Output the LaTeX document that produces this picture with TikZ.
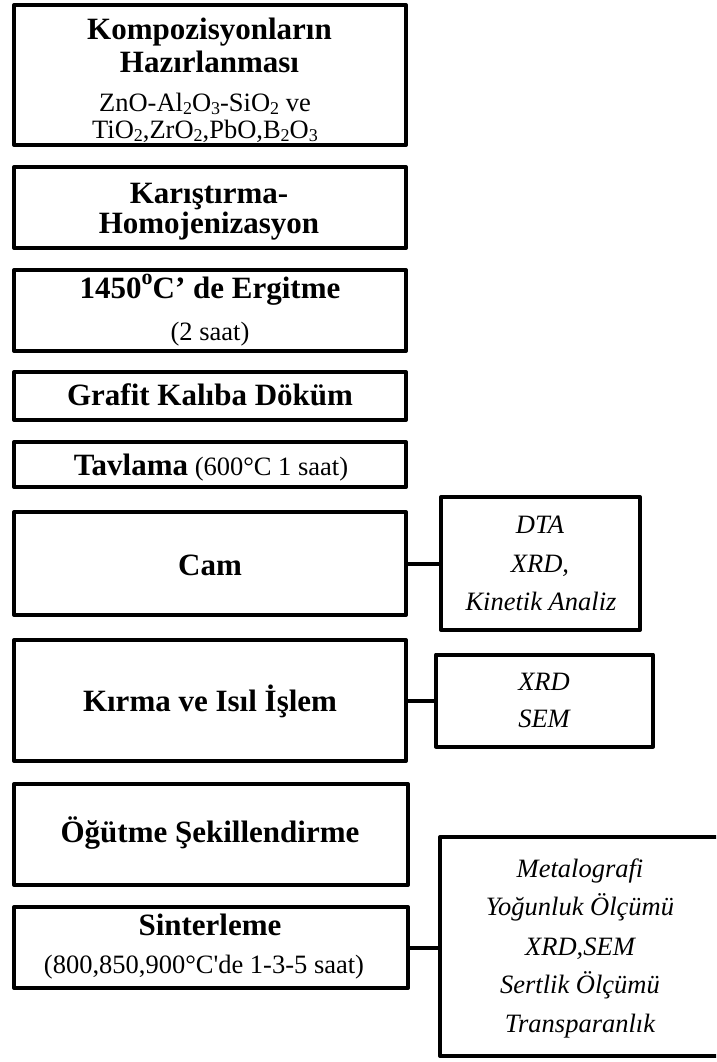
\documentclass[tikz,border=0pt]{standalone}
\usepackage{fontspec}
\setmainfont{Liberation Serif}[Ligatures=TeXOff]
\newcommand{\bsz}{\fontsize{31}{33}\selectfont\bfseries}
\newcommand{\nsz}{\fontsize{26.5}{30}\selectfont}
\newcommand{\sbs}[1]{\raisebox{-0.1em}{\fontsize{18}{18}\selectfont #1}}
\begin{document}
\begin{tikzpicture}[x=1pt,y=-1pt,
  box/.style={draw, rectangle, line width=4pt, line join=round, inner sep=0pt},
  lbox/.style={box, minimum width=392pt},
  bt/.style={font=\bsz, anchor=base, inner sep=0pt},
  nt/.style={font=\nsz, anchor=base, inner sep=0pt},
  it/.style={font=\nsz\itshape, anchor=base, inner sep=0pt},
  conn/.style={line width=4pt}]
\useasboundingbox (0,0) rectangle (716,1062);
\clip (0,0) rectangle (716,1062);
% left column boxes
\node[lbox, minimum height=140pt] (b1) at (210,75) {};
\node[lbox, minimum height=81pt] (b2) at (210,207.5) {};
\node[lbox, minimum height=81pt] (b3) at (210,310.5) {};
\node[lbox, minimum height=48pt] (b4) at (210,396) {};
\node[lbox, minimum height=45pt] (b5) at (210,464.5) {};
\node[lbox, minimum height=103pt] (b6) at (210,563.5) {};
\node[lbox, minimum height=121pt] (b7) at (210,700.5) {};
\node[lbox, minimum height=101pt, minimum width=394pt] (b8) at (211,834.5) {};
\node[lbox, minimum height=81pt, minimum width=394pt] (b9) at (211,947.5) {};
% right column boxes
\node[box, minimum width=199pt, minimum height=133pt] (r1) at (540.5,563.5) {};
\node[box, minimum width=217pt, minimum height=92pt] (r2) at (544.5,700.5) {};
\node[box, minimum width=282pt, minimum height=219pt] (r3) at (581,946.5) {};
% connectors
\draw[conn] (b6.east) -- (r1.west);
\draw[conn] (b7.east) -- (r2.west);
\draw[conn] (b9.east) -- (b9.east -| r3.west);
% texts
\node[bt] (t1a) at (209.5,40) {Kompozisyonların};
\node[bt] (t1b) at (209.5,73) {Hazırlanması};
\node[font=\fontsize{26.5}{27}\selectfont, align=center, inner sep=0pt, anchor=center] (t1c) at (205,118)
  {ZnO-Al\sbs{2}O\sbs{3}-SiO\sbs{2} ve\\TiO\sbs{2},ZrO\sbs{2},PbO,B\sbs{2}O\sbs{3}};
\node[bt] (t2a) at (209,203) {Karıştırma-};
\node[bt] (t2b) at (209,233) {Homojenizasyon};
\node[bt] (t3a) at (210,298) {1450\raisebox{0.42em}{\fontsize{22}{22}\selectfont o}C’ de Ergitme};
\node[nt] (t3b) at (210,340) {(2 saat)};
\node[bt] (t4) at (210,405) {Grafit Kalıba Döküm};
\node[nt] (t5) at (211,475) {{\bsz Tavlama} (600°C 1 saat)};
\node[bt] (t6) at (210,575) {Cam};
\node[bt] (t7) at (210,711) {Kırma ve Isıl İşlem};
\node[bt] (t8) at (210,842) {Öğütme Şekillendirme};
\node[bt] (t9a) at (210,935) {Sinterleme};
\node[nt] (t9b) at (204,973) {(800,850,900°C'de 1-3-5 saat)};
\node[it] (u1a) at (540,533) {DTA};
\node[it] (u1b) at (540,572) {XRD,};
\node[it] (u1c) at (541,610) {Kinetik Analiz};
\node[it] (u2a) at (544,690) {XRD};
\node[it] (u2b) at (544,727) {SEM};
\node[it] (u3a) at (580,877) {Metalografi};
\node[it] (u3b) at (580,915) {Yoğunluk Ölçümü};
\node[it] (u3c) at (580,955) {XRD,SEM};
\node[it] (u3d) at (580,993) {Sertlik Ölçümü};
\node[it] (u3e) at (580,1032) {Transparanlık};
\end{tikzpicture}
\end{document}
